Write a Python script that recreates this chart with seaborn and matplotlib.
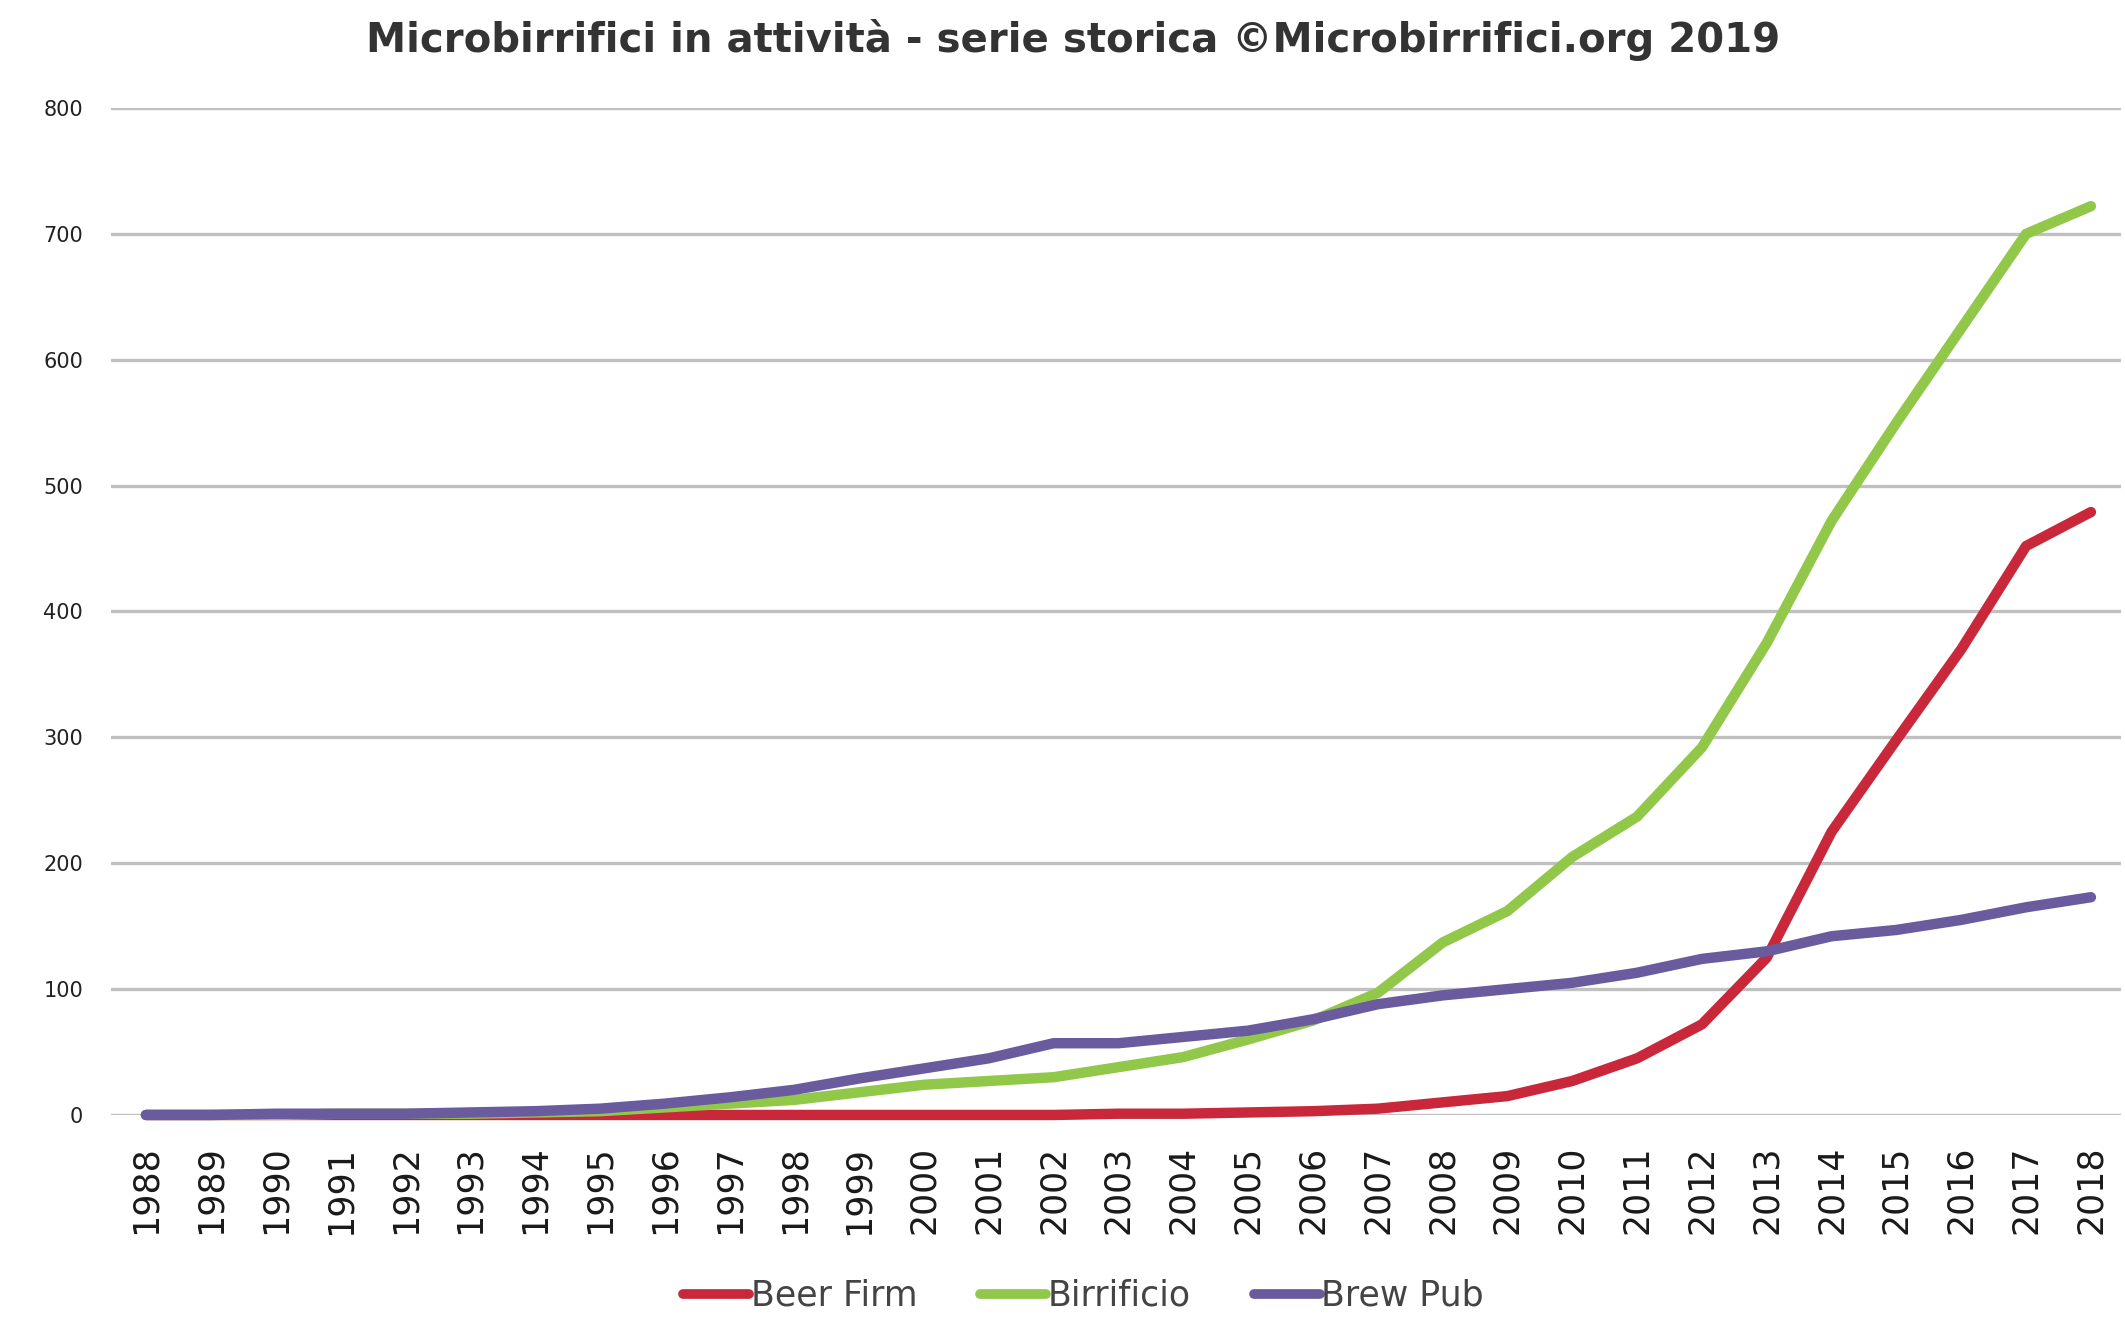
import numpy as np
import pandas as pd
import matplotlib.pyplot as plt
import seaborn as sns

# Values (number of active breweries per year)
years = list(range(1988, 2019))
beer_firm = [0, 0, 0, 0, 0, 0, 0, 0, 0, 0, 0, 0, 0, 0, 0, 1, 1, 2, 3, 5,
             10, 15, 27, 45, 72, 125, 225, 298, 370, 452, 479]
birrificio = [0, 0, 0, 1, 1, 1, 2, 3, 6, 9, 12, 18, 24, 27, 30, 38, 46, 60, 75, 97,
              137, 162, 205, 237, 292, 375, 472, 550, 625, 700, 722]
brew_pub = [0, 0, 1, 1, 1, 2, 3, 5, 9, 14, 20, 29, 37, 45, 57, 57, 62, 67, 76, 88,
            95, 100, 105, 113, 124, 130, 142, 147, 155, 165, 173]
series_names = ['Beer Firm', 'Birrificio', 'Brew Pub']
series_colors = ['#c8283a', '#92c84a', '#6a5a9e']
y_ticks = [0, 100, 200, 300, 400, 500, 600, 700, 800]
title = 'Microbirrifici in attività - serie storica ©Microbirrifici.org 2019'

df = pd.DataFrame({
    'Anno': years * 3,
    'Valore': beer_firm + birrificio + brew_pub,
    'Tipo': [n for n in series_names for _ in years],
})

sns.set_style('white')
plt.rcParams['font.family'] = ['DejaVu Sans']

fig = plt.figure(figsize=(21.25, 13.17), dpi=100)
ax = fig.add_axes([0.0522, 0.1534, 0.9458, 0.7646])

sns.lineplot(data=df, x='Anno', y='Valore', hue='Tipo', palette=series_colors,
             hue_order=series_names, linewidth=7.5, ax=ax, legend=False)
for line in ax.lines:
    line.set_clip_on(False)
    line.set_solid_capstyle('round')
    line.set_solid_joinstyle('round')

ax.set_xlim(years[0] - 0.54, years[-1] + 0.46)
ax.set_ylim(0, 800)
ax.set_xticks(years)
ax.set_xticklabels([str(y) for y in years], rotation=90, fontsize=25, color='#1a1a1a')
ax.set_yticks(y_ticks)
ax.set_yticklabels([str(v) for v in y_ticks], fontsize=15, color='#222222')
ax.tick_params(axis='x', length=0, pad=22)
ax.tick_params(axis='y', length=0, pad=20)
ax.yaxis.grid(True, color='#c0c0c0', linewidth=2.4)
ax.set_axisbelow(True)
sns.despine(ax=ax, left=True, bottom=True, top=True, right=True)
ax.set_xlabel('')
ax.set_ylabel('')

fig.text(0.505, 0.97, title, ha='center', va='center', fontsize=29,
         fontweight='bold', color='#333333')

handles = [plt.Line2D([], [], color=c, linewidth=7) for c in series_colors]
fig.legend(handles, series_names, loc='center', bbox_to_anchor=(0.51, 0.016),
           ncol=3, frameon=False, fontsize=25, handlelength=1.9,
           handletextpad=0.05, columnspacing=1.8, labelcolor='#444444')

fig.savefig('out.png', dpi=100)
